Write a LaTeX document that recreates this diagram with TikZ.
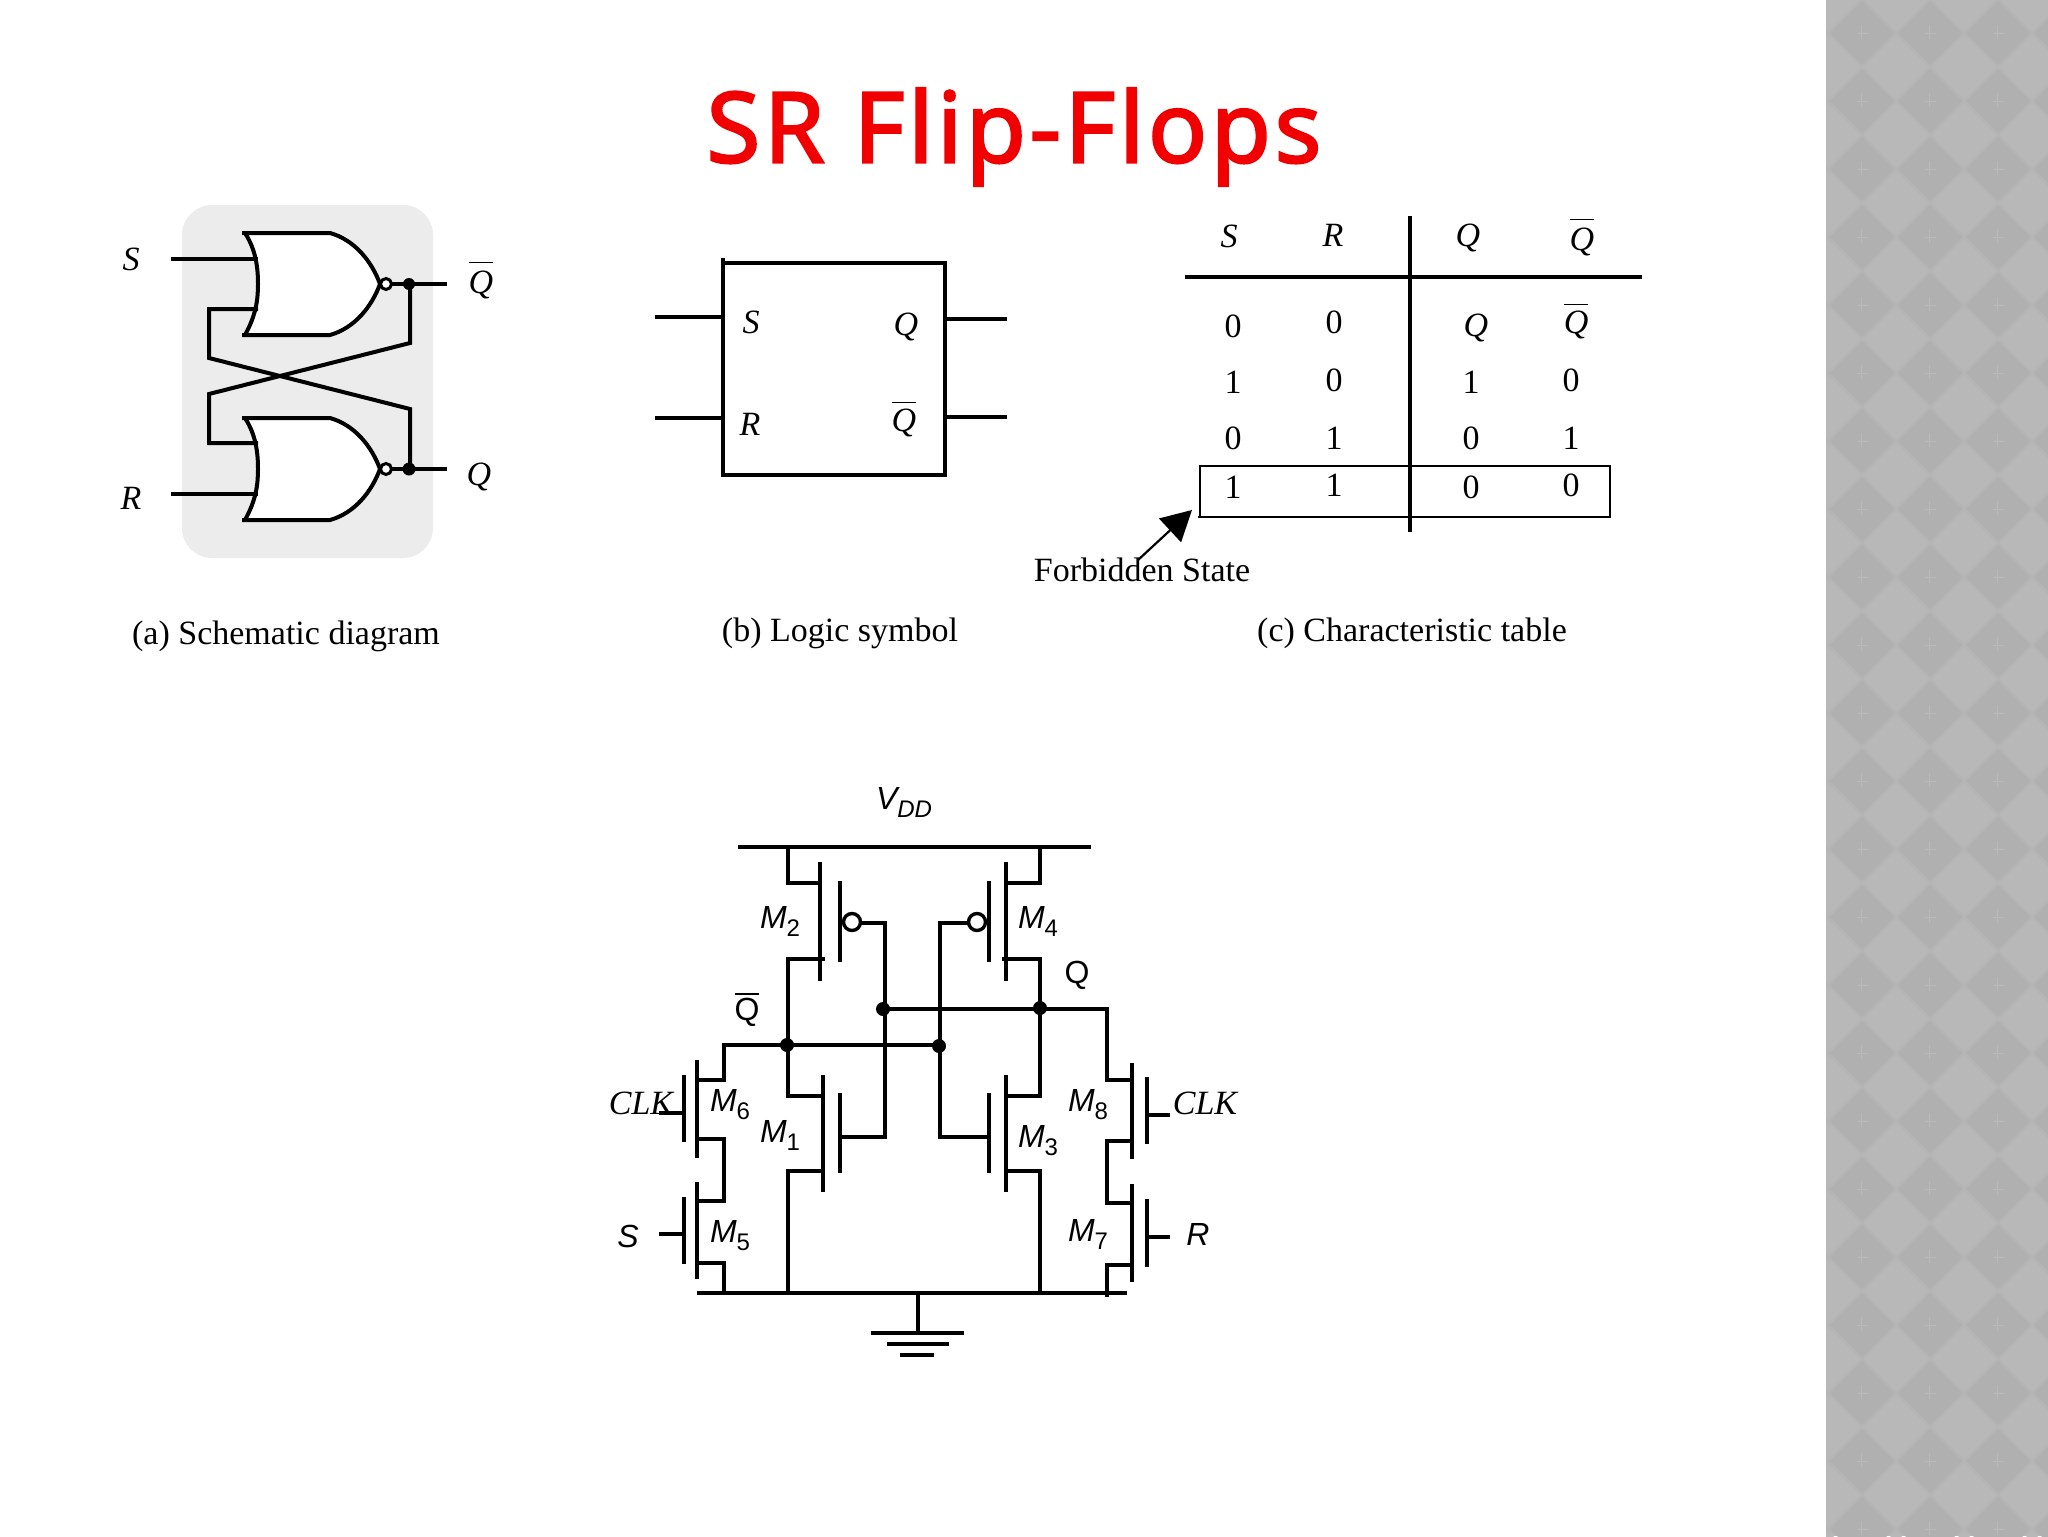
\documentclass[tikz,border=0pt]{standalone}
\usepackage{fontspec}
\setmainfont{Liberation Serif}
\setsansfont{Liberation Sans}
\newfontfamily\titlefont[LetterSpace=3.6,FakeBold=2.2]{Noto Sans}
\usetikzlibrary{arrows.meta}
\definecolor{bandbase}{HTML}{B5B5B5}
\definecolor{banddark}{HTML}{B0B0B0}
\definecolor{bandlight}{HTML}{B8B8B8}
\definecolor{bandmark}{HTML}{BABABA}
\definecolor{panelgrey}{HTML}{ECECEC}
\definecolor{titlered}{HTML}{F00000}
\newcommand{\barq}[1]{\vbox{\hrule height 0.8pt\kern #1\hbox{\itshape Q}}}
\newcommand{\barqup}[1]{\vbox{\hrule height 0.8pt\kern #1\hbox{\upshape Q}}}
\newcommand{\gateoutline}{(242,233) -- (330,233) .. controls (355,240) and (372,262) .. (380,284) .. controls (372,306) and (355,328) .. (330,335) -- (242,335) -- (245,335) .. controls (256,315) and (258,300) .. (258,284) .. controls (258,268) and (256,250) .. (245,233) -- cycle}
\tikzset{
  every node/.style={inner sep=0pt,outer sep=0pt,anchor=center},
  serif/.style={font=\fontsize{17}{20}\selectfont},
  serifit/.style={font=\fontsize{17}{20}\selectfont\itshape},
  sansit/.style={font=\fontsize{16}{19}\selectfont\sffamily\itshape},
  sansup/.style={font=\fontsize{16}{19}\selectfont\sffamily},
  wire/.style={line width=1.7pt,line cap=butt,line join=miter},
  thinwire/.style={line width=1.1pt},
  logicwire/.style={line width=2pt},
  junction/.style={fill=black,draw=none},
}
\begin{document}
\begin{tikzpicture}[x=0.5pt,y=-0.5pt]
\useasboundingbox (0,0) rectangle (2048,1536);
\fill[white] (0,0) rectangle (2048,1536);
% side band
\begin{scope}
\clip (1826,0) rectangle (2048,1536);
\fill[bandbase] (1826,0) rectangle (2048,1536);
\foreach \i in {-1,...,3}{
 \foreach \j in {-1,...,22}{
  \pgfmathsetmacro{\cx}{1862+68*\i}
  \pgfmathsetmacro{\cy}{33+68*\j}
  \fill[banddark] (\cx-32,\cy) -- (\cx,\cy-32) -- (\cx+32,\cy) -- (\cx,\cy+32) -- cycle;
  \fill[bandlight] (\cx+34-32,\cy+34) -- (\cx+34,\cy+34-32) -- (\cx+34+32,\cy+34) -- (\cx+34,\cy+34+32) -- cycle;
  \draw[bandmark,line width=0.3pt] (\cx-1,\cy-8) -- (\cx-1,\cy+6) (\cx-5,\cy) -- (\cx+6,\cy);
 }
}
\end{scope}
% title
\node[text=titlered,font=\fontsize{49}{56}\selectfont\titlefont] (title) at (1014,137) {SR Flip-Flops};
% (a) schematic
\fill[panelgrey,rounded corners=15pt] (182,205) rectangle (433,558);
\draw[logicwire,fill=white] \gateoutline;
\begin{scope}[shift={(0,185)}]
\draw[logicwire,fill=white] \gateoutline;
\end{scope}
\coordinate (sin) at (171,259);
\coordinate (sgate) at (258,259);
\coordinate (rin) at (171,494);
\coordinate (rgate) at (258,494);
\draw[logicwire] (sin) -- (sgate);
\draw[logicwire] (rin) -- (rgate);
\draw[logicwire] (258,309) -- (209,309) -- (209,358) -- (410,409) -- (410,469);
\draw[logicwire] (258,443) -- (209,443) -- (209,394) -- (410,343) -- (410,284);
\draw[logicwire] (391,284) -- (447,284);
\draw[logicwire] (391,469) -- (447,469);
\draw[line width=1.5pt,fill=white] (386,284) circle (5.5);
\draw[line width=1.5pt,fill=white] (386,469) circle (5.5);
\fill[junction] (409,284) circle (6);
\fill[junction] (409,469) circle (6.5);
\node[serifit] (aS) at (131,259) {S};
\node[serifit] (aR) at (131,498) {R};
\node[serif,anchor=base] (aQb) at (481,293) {\barq{3.5pt}};
\node[serifit] (aQ) at (479,477) {Q};
\node[serif] (capa) at (286,636) {(a) Schematic diagram};
% (b) logic symbol
\draw[logicwire] (723,263) rectangle (945,475);
\draw[logicwire] (723,258) -- (723,263);
\coordinate (bs) at (655,317); \coordinate (br) at (655,418);
\coordinate (bq) at (1007,319); \coordinate (bqb) at (1007,417);
\draw[logicwire] (bs) -- (723,317);
\draw[logicwire] (br) -- (723,418);
\draw[logicwire] (945,319) -- (bq);
\draw[logicwire] (945,417) -- (bqb);
\node[serifit] (bS) at (751,322) {S};
\node[serifit] (bR) at (750,424) {R};
\node[serifit] (bQ) at (906,327) {Q};
\node[serif,anchor=base] (bQb) at (904,431) {\barq{2.5pt}};
\node[serif] (capb) at (840,633) {(b) Logic symbol};
% (c) table
\draw[line width=2pt] (1185,277) -- (1642,277);
\draw[line width=2pt] (1410,216) -- (1410,532);
\draw[thinwire] (1198,517) -- (1610,517) -- (1610,466) -- (1200,466) -- (1200,517);
\node[serifit] at (1229,236) (tS) {S};
\node[serifit] at (1333,235) (tR) {R};
\node[serifit] at (1468,238) (tQ) {Q};
\node[serif,anchor=base] at (1582,250) (tQb) {\barq{3.5pt}};
\node[serif] at (1233,326) (r1a) {0};
\node[serif] at (1334,322) (r1b) {0};
\node[serifit] at (1476,328) (r1c) {Q};
\node[serif,anchor=base] at (1576,333) (r1d) {\barq{2.5pt}};
\node[serif] at (1233,382) (r2a) {1};
\node[serif] at (1334,380) (r2b) {0};
\node[serif] at (1471,382) (r2c) {1};
\node[serif] at (1571,380) (r2d) {0};
\node[serif] at (1233,438) (r3a) {0};
\node[serif] at (1334,438) (r3b) {1};
\node[serif] at (1471,438) (r3c) {0};
\node[serif] at (1571,438) (r3d) {1};
\node[serif] at (1233,487) (r4a) {1};
\node[serif] at (1334,485) (r4b) {1};
\node[serif] at (1471,487) (r4c) {0};
\node[serif] at (1571,485) (r4d) {0};
\node[serif] (forb) at (1142,570) {Forbidden State};
\coordinate (arrowtail) at (1138,560);
\coordinate (arrowtip) at (1192,510);
\draw[line width=1.1pt,-{Triangle[length=15pt,width=16pt]}] (arrowtail) -- (arrowtip);
\node[serif] (capc) at (1412,633) {(c) Characteristic table};
% circuit
\node[sansit] (vdd) at (904,802) {V\raisebox{-0.25em}{\fontsize{12}{12}\selectfont DD}};
\draw[wire] (738,847) -- (1091,847);
\draw[wire] (788,847) -- (788,883) -- (820,883);
\draw[wire] (1040,847) -- (1040,883) -- (1006,883);
% M2
\draw[wire] (820,862) -- (820,981);
\draw[wire] (840,881) -- (840,962);
\draw[wire] (825,959) -- (788,959) -- (788,1096) -- (823,1096);
\draw[wire,fill=white] (852,922) circle (8.5);
\draw[wire] (861,923) -- (885,923) -- (885,1137) -- (840,1137);
% M4
\draw[wire] (1006,862) -- (1006,981);
\draw[wire] (989,881) -- (989,962);
\draw[wire] (1002,959) -- (1040,959) -- (1040,1096) -- (1006,1096);
\draw[wire,fill=white] (977,922) circle (8.5);
\draw[wire] (968,923) -- (940,923) -- (940,1137) -- (989,1137);
% M1
\draw[wire] (823,1075) -- (823,1192);
\draw[wire] (840,1093) -- (840,1173);
\draw[wire] (823,1171) -- (788,1171) -- (788,1293);
% M3
\draw[wire] (1006,1075) -- (1006,1192);
\draw[wire] (989,1093) -- (989,1173);
\draw[wire] (1006,1171) -- (1040,1171) -- (1040,1293);
% cross wires
\draw[wire] (883,1009) -- (1107,1009) -- (1107,1080) -- (1132,1080);
\draw[wire] (697,1080) -- (724,1080) -- (724,1045) -- (939,1045);
\fill[junction] (883,1009) circle (7);
\fill[junction] (1040,1008) circle (7);
\fill[junction] (787,1045) circle (7);
\fill[junction] (939,1046) circle (7);
% M6, M5
\draw[wire] (697,1060) -- (697,1158);
\draw[wire] (684,1075) -- (684,1142);
\draw[wire] (684,1113) -- (659,1113);
\draw[wire] (697,1139) -- (724,1139) -- (724,1201) -- (697,1201);
\draw[wire] (697,1182) -- (697,1279);
\draw[wire] (684,1197) -- (684,1264);
\draw[wire] (684,1234) -- (659,1234);
\draw[wire] (697,1263) -- (724,1263) -- (724,1293);
% M8, M7
\draw[wire] (1132,1063) -- (1132,1159);
\draw[wire] (1147,1077) -- (1147,1144);
\draw[wire] (1147,1115) -- (1170,1115);
\draw[wire] (1132,1141) -- (1107,1141) -- (1107,1203) -- (1132,1203);
\draw[wire] (1132,1184) -- (1132,1282);
\draw[wire] (1147,1199) -- (1147,1267);
\draw[wire] (1147,1237) -- (1170,1237);
\draw[wire] (1132,1265) -- (1107,1265) -- (1107,1297);
% ground
\draw[wire] (697,1293) -- (1127,1293);
\draw[wire] (918,1293) -- (918,1333);
\draw[line width=2.2pt] (871,1333) -- (964,1333);
\draw[line width=2.2pt] (887,1344) -- (949,1344);
\draw[line width=2.2pt] (900,1355) -- (934,1355);
% circuit labels
\newcommand{\mlabel}[1]{M\raisebox{-0.25em}{\fontsize{12}{12}\selectfont\upshape #1}}
\node[sansit] (m2) at (780,921) {\mlabel{2}};
\node[sansit] (m4) at (1038,921) {\mlabel{4}};
\node[sansit] (m1) at (780,1135) {\mlabel{1}};
\node[sansit] (m3) at (1038,1141) {\mlabel{3}};
\node[sansit] (m6) at (730,1105) {\mlabel{6}};
\node[sansit] (m5) at (730,1236) {\mlabel{5}};
\node[sansit] (m8) at (1088,1105) {\mlabel{8}};
\node[sansit] (m7) at (1088,1234) {\mlabel{7}};
\node[sansup] (cQ) at (1077,975) {Q};
\node[sansup,anchor=base] (cQb) at (747,1020) {\barqup{1.5pt}};
\node[serifit] (clkl) at (641,1103) {CLK};
\node[serifit] (clkr) at (1205,1103) {CLK};
\node[sansit] (cS) at (628,1236) {S};
\node[sansit] (cR) at (1198,1234) {R};
\end{tikzpicture}
\end{document}
